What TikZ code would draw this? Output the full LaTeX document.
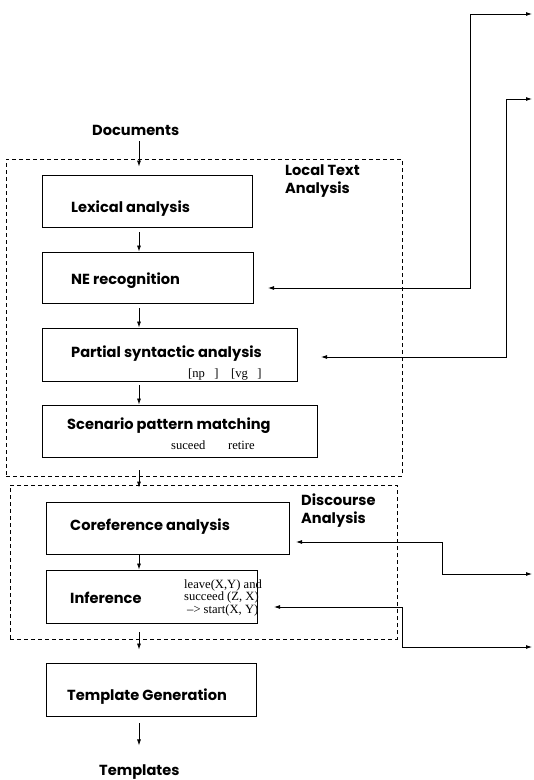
\documentclass[tikz,border=0pt]{standalone}
\usepackage{fontspec}
\setmainfont{Liberation Serif}
\newfontfamily\lblfamily{Poppins}
\usetikzlibrary{arrows.meta,calc}
\newcommand{\lblfont}{\lblfamily\bfseries\fontsize{14.6}{18}\selectfont}
\newcommand{\smfont}{\rmfamily\fontsize{12.6}{11}\selectfont}
\tikzset{
  box/.style={draw, line width=0.9pt, inner sep=0pt},
  dbox/.style={draw, line width=0.8pt, dash pattern=on 4pt off 3pt, inner sep=0pt},
  lbl/.style={font=\lblfont, inner sep=0pt, anchor=base west, align=left},
  sm/.style={font=\smfont, inner sep=0pt, anchor=base west, align=left},
  arr/.style={line width=0.8pt, -{Latex[length=6pt,width=4pt]}},
  dblarr/.style={line width=0.8pt, {Latex[length=6pt,width=4pt]}-{Latex[length=6pt,width=4pt]}}
}
\begin{document}
\begin{tikzpicture}[x=1pt,y=-1pt]
\useasboundingbox (0,0) rectangle (534,780);
\coordinate (axis) at (139,0);
% dashed groups
\node[dbox, minimum width=396, minimum height=317] (lta) at (204,317.5) {};
\node[dbox, minimum width=387, minimum height=154] (da) at (203.5,562) {};
% boxes
\node[box, minimum width=210, minimum height=52] (lex) at (147,201) {};
\node[box, minimum width=211, minimum height=51] (ne) at (147.5,277.5) {};
\node[box, minimum width=255, minimum height=53] (psa) at (169.5,354.5) {};
\node[box, minimum width=275, minimum height=52] (spm) at (179.5,431) {};
\node[box, minimum width=243, minimum height=52] (coref) at (167.5,528) {};
\node[box, minimum width=211, minimum height=53] (inf) at (151.5,596.5) {};
\node[box, minimum width=210, minimum height=53] (tg) at (151,689.5) {};
% labels
\node[lbl] (docs) at (92,135) {Documents};
\node[lbl] (ltalbl) at (285,193) {Local Text\\Analysis};
\node[lbl] (lexlbl) at (71,212) {Lexical analysis};
\node[lbl] (nelbl) at (71,284) {NE recognition};
\node[lbl] (psalbl) at (71,357) {Partial syntactic analysis};
\node[sm] (npvg) at (188,377) {[np\ \ \ ]\ \ \ \ [vg\ \ \ ]};
\node[lbl] (spmlbl) at (67,429) {Scenario pattern matching};
\node[sm] (suc) at (171,449) {suceed};
\node[sm] (ret) at (228,449) {retire};
\node[lbl] (dalbl) at (301,523) {Discourse\\Analysis};
\node[lbl] (coreflbl) at (70,530) {Coreference analysis};
\node[lbl] (inflbl) at (70,603) {Inference};
\node[sm] (rule) at (184,613) {leave(X,Y) and\\succeed (Z, X)\\\hspace{3pt}--{}> start(X, Y)};
\node[lbl] (tglbl) at (67,700) {Template Generation};
\node[lbl] (tpl) at (99,775) {Templates};
% vertical arrows
\draw[arr] ($(docs.south -| axis)+(0,6)$) -- ($(lta.north -| axis)+(0,8)$);
\draw[arr, shorten <=5pt] (lex.south -| axis) -- (ne.north -| axis);
\draw[arr, shorten <=5pt] (ne.south -| axis) -- (psa.north -| axis);
\draw[arr, shorten <=4pt] (psa.south -| axis) -- (spm.north -| axis);
\draw[arr, shorten <=-6pt, shorten >=-3pt] (lta.south -| axis) -- (da.north -| axis);
\draw[arr] (coref.south -| axis) -- (inf.north -| axis);
\draw[arr, shorten <=-7pt, shorten >=13pt] (da.south -| axis) -- (tg.north -| axis);
\draw[arr, shorten <=7pt] (tg.south -| axis) -- ($(tg.south -| axis)+(0,29)$);
% right connectors
\coordinate (inNE) at (268,288);  \coordinate (kNE) at (470,14);  \coordinate (outNE) at (532,14);
\coordinate (inPS) at (321,357);  \coordinate (kPS) at (506,99);  \coordinate (outPS) at (532,99);
\coordinate (inCO) at (296,542);  \coordinate (kCO) at (442,574); \coordinate (outCO) at (532,574);
\coordinate (inIN) at (274,607);  \coordinate (kIN) at (402,647); \coordinate (outIN) at (532,647);
\draw[dblarr] (inNE) -| (kNE) -- (outNE);
\draw[dblarr] (inPS) -| (kPS) -- (outPS);
\draw[dblarr] (inCO) -| (kCO) -- (outCO);
\draw[dblarr] (inIN) -| (kIN) -- (outIN);
\end{tikzpicture}
\end{document}
